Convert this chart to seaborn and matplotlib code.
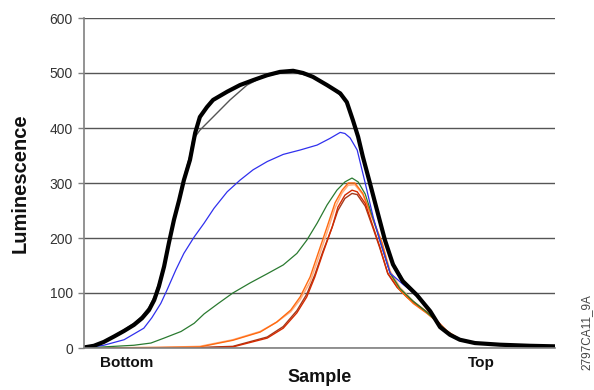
import matplotlib
matplotlib.use("Agg")
import matplotlib.pyplot as plt
import seaborn as sns
import pandas as pd

# ---- data: x = position along the gradient (0 = bottom, 100 = top), y = luminescence ----
black_thick_x = [0.0, 2.1, 4.2, 6.4, 8.5, 10.6, 12.3, 13.8, 14.9, 15.9, 17.0, 18.0, 19.1, 20.2, 21.2, 22.5, 23.6, 24.6, 26.1, 27.4, 30.4, 33.1, 35.9, 38.9, 41.6, 44.4, 46.5, 48.6, 51.6, 54.4, 55.8, 57.1, 58.2, 59.2, 60.7, 62.2, 63.9, 65.6, 67.7, 70.7, 73.5, 75.6, 77.7, 79.8, 83.0, 88.3, 94.7, 100.0]
black_thick_y = [1, 4, 11, 21, 31, 42, 54, 69, 87, 112, 148, 190, 233, 269, 305, 342, 391, 420, 438, 451, 466, 478, 487, 496, 502, 504, 500, 493, 478, 463, 447, 414, 384, 348, 300, 251, 196, 152, 121, 96, 67, 38, 24, 15, 9, 6, 4, 3]

black_thin_x = [0.0, 2.1, 4.2, 6.4, 8.5, 10.6, 12.3, 13.8, 14.9, 15.9, 17.0, 18.0, 19.1, 20.2, 21.2, 22.5, 23.1, 24.6, 27.4, 31.0, 34.6, 38.0, 41.6, 45.2, 48.6, 52.2, 54.9, 55.8, 57.1, 58.2, 59.2, 60.7, 62.2, 63.9, 65.6, 67.7, 70.7, 73.5, 75.6, 77.7, 79.8, 83.0, 88.3, 94.7, 100.0]
black_thin_y = [1, 4, 12, 22, 33, 45, 58, 74, 93, 118, 152, 195, 236, 272, 310, 350, 378, 396, 420, 451, 478, 493, 500, 500, 493, 475, 456, 445, 416, 386, 350, 302, 253, 198, 155, 125, 99, 68, 39, 24, 15, 9, 6, 4, 3]

blue_x = [0.0, 4.2, 8.5, 12.7, 14.4, 16.3, 17.6, 19.5, 21.2, 23.4, 25.5, 27.6, 30.4, 33.1, 35.9, 38.9, 42.3, 45.9, 49.5, 52.2, 54.4, 55.4, 56.5, 58.0, 59.7, 61.4, 62.8, 65.0, 67.7, 70.7, 73.5, 75.6, 77.7, 79.8, 83.0, 88.3, 94.7, 100.0]
blue_y = [0, 5, 15, 36, 55, 81, 105, 142, 172, 202, 227, 254, 284, 305, 324, 339, 352, 360, 369, 381, 392, 390, 382, 360, 300, 238, 196, 136, 116, 95, 66, 38, 23, 14, 9, 5, 3, 2]

green_x = [0.0, 10.6, 14.2, 17.0, 20.6, 23.4, 25.5, 28.5, 31.6, 35.2, 38.9, 42.3, 45.2, 47.3, 49.5, 51.6, 53.7, 55.4, 56.9, 58.2, 59.7, 61.4, 62.8, 65.0, 67.1, 69.9, 72.8, 74.9, 77.1, 79.8, 83.0, 88.3, 94.7, 100.0]
green_y = [0, 5, 9, 18, 30, 45, 62, 81, 100, 118, 135, 151, 172, 196, 227, 260, 287, 302, 309, 302, 280, 235, 196, 136, 108, 85, 65, 48, 30, 15, 9, 5, 3, 2]

orange_x = [0.0, 16.1, 24.6, 31.6, 37.4, 40.9, 43.9, 45.9, 48.0, 49.7, 51.6, 53.3, 54.8, 56.1, 57.5, 59.2, 61.4, 63.3, 65.0, 67.1, 69.9, 72.8, 74.9, 77.1, 79.8, 83.0, 88.3, 94.7, 100.0]
orange_y = [0, 1, 2, 14, 29, 47, 69, 93, 129, 172, 220, 264, 287, 300, 300, 281, 233, 191, 136, 105, 81, 63, 48, 30, 16, 9, 5, 4, 3]

peach_x = [0.0, 16.1, 24.6, 31.6, 37.4, 40.9, 43.9, 45.9, 48.0, 49.7, 51.6, 53.3, 54.8, 56.1, 57.5, 59.2, 61.4, 63.3, 65.0, 67.1, 69.9, 72.8, 74.9, 77.1, 79.8, 83.0, 88.3, 94.7, 100.0]
peach_y = [0, 1, 3, 15, 30, 47, 66, 88, 120, 162, 210, 255, 282, 296, 297, 279, 232, 190, 140, 110, 85, 66, 50, 31, 16, 9, 5, 4, 3]

red_x = [0.0, 24.6, 31.6, 38.9, 42.3, 45.2, 47.3, 49.0, 50.7, 52.7, 53.9, 55.4, 56.9, 58.0, 59.7, 61.4, 62.8, 64.5, 66.5, 68.6, 71.3, 74.1, 77.1, 79.8, 83.0, 88.3, 94.7, 100.0]
red_y = [0, 0, 2, 18, 36, 64, 93, 129, 172, 220, 256, 278, 287, 284, 263, 220, 184, 136, 111, 93, 75, 57, 30, 15, 9, 5, 3, 2]

darkred_x = [0.0, 24.6, 31.6, 38.9, 42.3, 45.2, 47.3, 49.0, 50.7, 52.7, 53.9, 55.4, 56.9, 58.0, 59.7, 61.4, 62.8, 64.5, 66.5, 68.6, 71.3, 74.1, 77.1, 79.8, 83.0, 88.3, 94.7, 100.0]
darkred_y = [0, 1, 3, 20, 39, 68, 98, 133, 175, 220, 250, 272, 281, 279, 258, 217, 182, 135, 110, 92, 74, 56, 30, 15, 9, 5, 3, 2]

y_ticks = [0, 100, 200, 300, 400, 500, 600]
x_tick_pos = [9.1, 84.3]
x_tick_labels = ["Bottom", "Top"]

series = [
    (darkred_x, darkred_y, "#a33a1c", 1.0),
    (peach_x, peach_y, "#ffae80", 1.1),
    (red_x, red_y, "#d42a00", 1.0),
    (orange_x, orange_y, "#ff6a10", 1.0),
    (green_x, green_y, "#2a7a30", 0.9),
    (blue_x, blue_y, "#3030ee", 0.9),
    (black_thin_x, black_thin_y, "#555555", 1.0),
    (black_thick_x, black_thick_y, "#000000", 3.0),
]

sns.set_theme(style="white")
plt.rcParams['font.family'] = ['Liberation Sans', 'DejaVu Sans']

fig = plt.figure(figsize=(5.94, 3.90), dpi=100)
ax = fig.add_axes([84/594, 1 - 348/390, (555-84)/594, (348-18)/390])

for xs, ys, col, lw in series:
    df = pd.DataFrame({"x": xs, "y": ys})
    sns.lineplot(data=df, x="x", y="y", ax=ax, color=col, linewidth=lw,
                 estimator=None, sort=False)

ax.set_xlim(0, 100)
ax.set_ylim(0, 600)
ax.set_yticks(y_ticks)
ax.set_yticklabels([str(v) for v in y_ticks], fontsize=10, color="#333333")
ax.yaxis.grid(True, color="#555555", linewidth=1.0)
ax.xaxis.grid(False)
ax.set_axisbelow(True)
ax.tick_params(axis="y", length=4, width=1, color="#808080", pad=4, left=True)

ax.set_xticks(x_tick_pos)
ax.set_xticklabels(x_tick_labels, fontsize=11, fontweight="bold", color="#111111")
ax.tick_params(axis="x", length=0, pad=6)

ax.set_xlabel("Sample", fontsize=13, fontweight="bold", color="#111111", labelpad=-1)
ax.set_ylabel("Luminescence", fontsize=14.5, fontweight="bold", color="#111111", labelpad=14)

for s in ["top", "right"]:
    ax.spines[s].set_visible(False)
for s in ["left", "bottom"]:
    ax.spines[s].set_color("#808080")
    ax.spines[s].set_linewidth(1.2)

fig.text(587/594, 1 - 332/390, "2797CA11_9A", rotation=90, ha="center", va="center",
         fontsize=8.5, color="#444444")

fig.savefig("out.png", dpi=100)
